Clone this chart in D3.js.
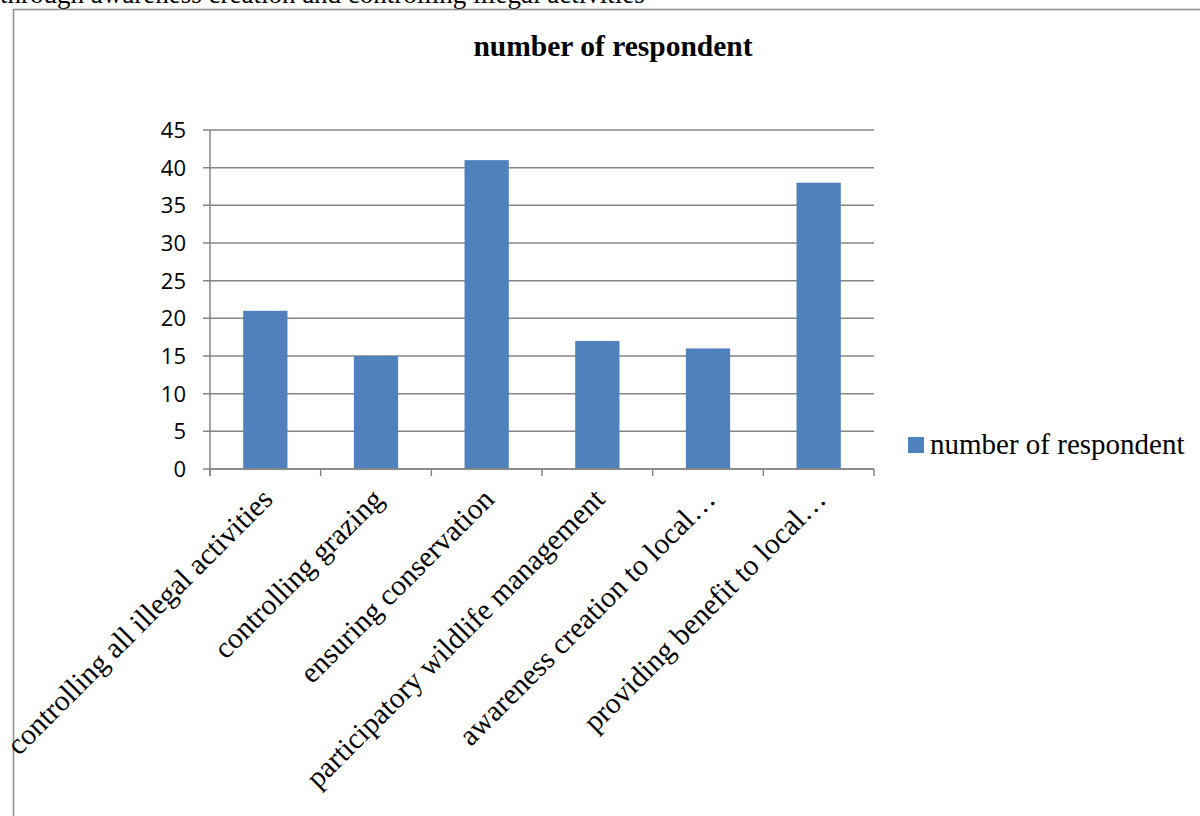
<!DOCTYPE html>
<html>
<head>
<meta charset="utf-8">
<script src="https://cdn.jsdelivr.net/npm/d3@7"></script>
<style>
  body { margin: 0; background: #fff; }
  svg { display: block; }
  .serif { font-family: "Liberation Serif", "Times New Roman", serif; fill: #000; }
</style>
</head>
<body>
<script>
const categories = [
    "controlling all illegal activities",
    "controlling grazing",
    "ensuring conservation",
    "participatory wildlife management",
    "awareness creation to local…",
    "providing benefit to local…"
];
const values = [21, 15, 41, 17, 16, 38];
const yTicks = [0, 5, 10, 15, 20, 25, 30, 35, 40, 45];
const seriesName = "number of respondent";

const width = 1200;
const height = 816;
const svg = d3.select("body").append("svg")
              .attr("width", width)
              .attr("height", height);

// clipped caption line from the document above the chart
svg.append("text")
   .attr("class", "serif")
   .attr("x", 0)
   .attr("y", 3)
   .style("font-size", "27px")
   .text("through awareness creation and controlling illegal activities");

// chart frame (runs past the page edge)
svg.append("rect")
   .attr("x", 13.5).attr("y", 9.5)
   .attr("width", 1200).attr("height", 830)
   .attr("fill", "none")
   .attr("stroke", "#8c8c8c")
   .attr("stroke-width", 1.5);

const plot = {left: 210, right: 874, top: 130, bottom: 469};

const x = d3.scaleBand()
            .domain(categories)
            .range([plot.left, plot.right])
            .paddingInner(0.6)
            .paddingOuter(0.3);
const y = d3.scaleLinear()
            .domain([0, 45])
            .range([plot.bottom, plot.top]);

// gridlines
svg.append("g")
   .selectAll("line")
   .data(yTicks)
   .enter()
   .append("line")
   .attr("x1", plot.left - 7)
   .attr("x2", plot.right)
   .attr("y1", d => y(d))
   .attr("y2", d => y(d))
   .attr("stroke", "#868686")
   .attr("stroke-width", 1.5);

// y labels
svg.append("g")
   .selectAll("text")
   .data(yTicks)
   .enter()
   .append("text")
   .attr("x", 186)
   .attr("y", d => y(d))
   .attr("dy", "0.36em")
   .attr("text-anchor", "end")
   .style("font-family", "'Open Sans', sans-serif")
   .style("font-size", "22px")
   .attr("fill", "#000")
   .text(d => d);

// bars
svg.append("g")
   .selectAll("rect")
   .data(values)
   .enter()
   .append("rect")
   .attr("x", (d, i) => x(categories[i]))
   .attr("y", d => y(d))
   .attr("width", x.bandwidth())
   .attr("height", d => y(0) - y(d))
   .attr("fill", "#4f81bd");

// axes lines
svg.append("line")
   .attr("x1", plot.left).attr("x2", plot.left)
   .attr("y1", plot.top).attr("y2", plot.bottom + 7)
   .attr("stroke", "#868686").attr("stroke-width", 1.5);
svg.append("line")
   .attr("x1", plot.left).attr("x2", plot.right)
   .attr("y1", plot.bottom).attr("y2", plot.bottom)
   .attr("stroke", "#868686").attr("stroke-width", 1.5);

// x ticks at band edges
const edges = d3.range(categories.length + 1).map(i => plot.left + i * (plot.right - plot.left) / categories.length);
svg.append("g")
   .selectAll("line")
   .data(edges)
   .enter()
   .append("line")
   .attr("x1", d => d).attr("x2", d => d)
   .attr("y1", plot.bottom).attr("y2", plot.bottom + 7)
   .attr("stroke", "#868686").attr("stroke-width", 1.5);

// rotated category labels
svg.append("g")
   .selectAll("text")
   .data(categories)
   .enter()
   .append("text")
   .attr("class", "serif")
   .attr("text-anchor", "end")
   .style("font-size", "29.5px")
   .attr("transform", d => {
       const cx = x(d) + x.bandwidth() / 2 + 9;
       return "translate(" + cx + "," + (plot.bottom + 32) + ") rotate(-45)";
   })
   .text(d => d);

// title
svg.append("text")
   .attr("class", "serif")
   .attr("x", 613)
   .attr("y", 56)
   .attr("text-anchor", "middle")
   .style("font-size", "29.5px")
   .style("font-weight", "bold")
   .text(seriesName);

// legend
const legend = svg.append("g").attr("transform", "translate(908, 437)");
legend.append("rect")
      .attr("width", 16).attr("height", 16)
      .attr("fill", "#4f81bd");
legend.append("text")
      .attr("class", "serif")
      .attr("x", 22)
      .attr("y", 17)
      .style("font-size", "29px")
      .text(seriesName);
</script>
</body>
</html>
